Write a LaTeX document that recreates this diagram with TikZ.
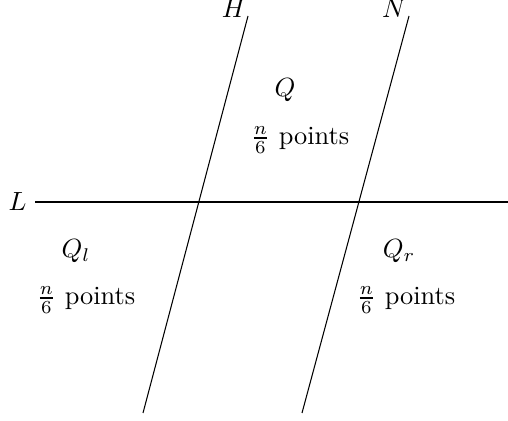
\documentclass[tikz,border=0pt]{standalone}
\usepackage{amsmath}
\usetikzlibrary{positioning}

\begin{document}
\begin{tikzpicture}[
  x=0.38pt,y=-0.38pt,
  region/.style={inner sep=1pt},
  count/.style={inner sep=1pt},
  line label/.style={inner sep=1pt}
]
\useasboundingbox (0,0) rectangle (508,421);
% lines
\coordinate (Lw) at (35,202);
\coordinate (Le) at (508,202);
\coordinate (Hn) at (248,16);
\coordinate (Hs) at (143,413);
\coordinate (Nn) at (409,16);
\coordinate (Ns) at (302,413);
\draw (Lw) -- (Le);
\draw (Hn) -- (Hs);
\draw (Nn) -- (Ns);
\node[line label,left=2pt of Lw] (lL) {$L$};
\node[line label] (lH) at (234,9) {$H$};
\node[line label] (lN) at (394,9) {$N$};
% regions
\node[region] (q) at (285,90) {$Q$};
\node[count] (qc) at (300,140) {$\frac{n}{6}$ points};
\node[region] (ql) at (76,251) {$Q_l$};
\node[count] (qlc) at (86,300) {$\frac{n}{6}$ points};
\node[region] (qr) at (399,251) {$Q_r$};
\node[count] (qrc) at (406,300) {$\frac{n}{6}$ points};
\end{tikzpicture}
\end{document}
